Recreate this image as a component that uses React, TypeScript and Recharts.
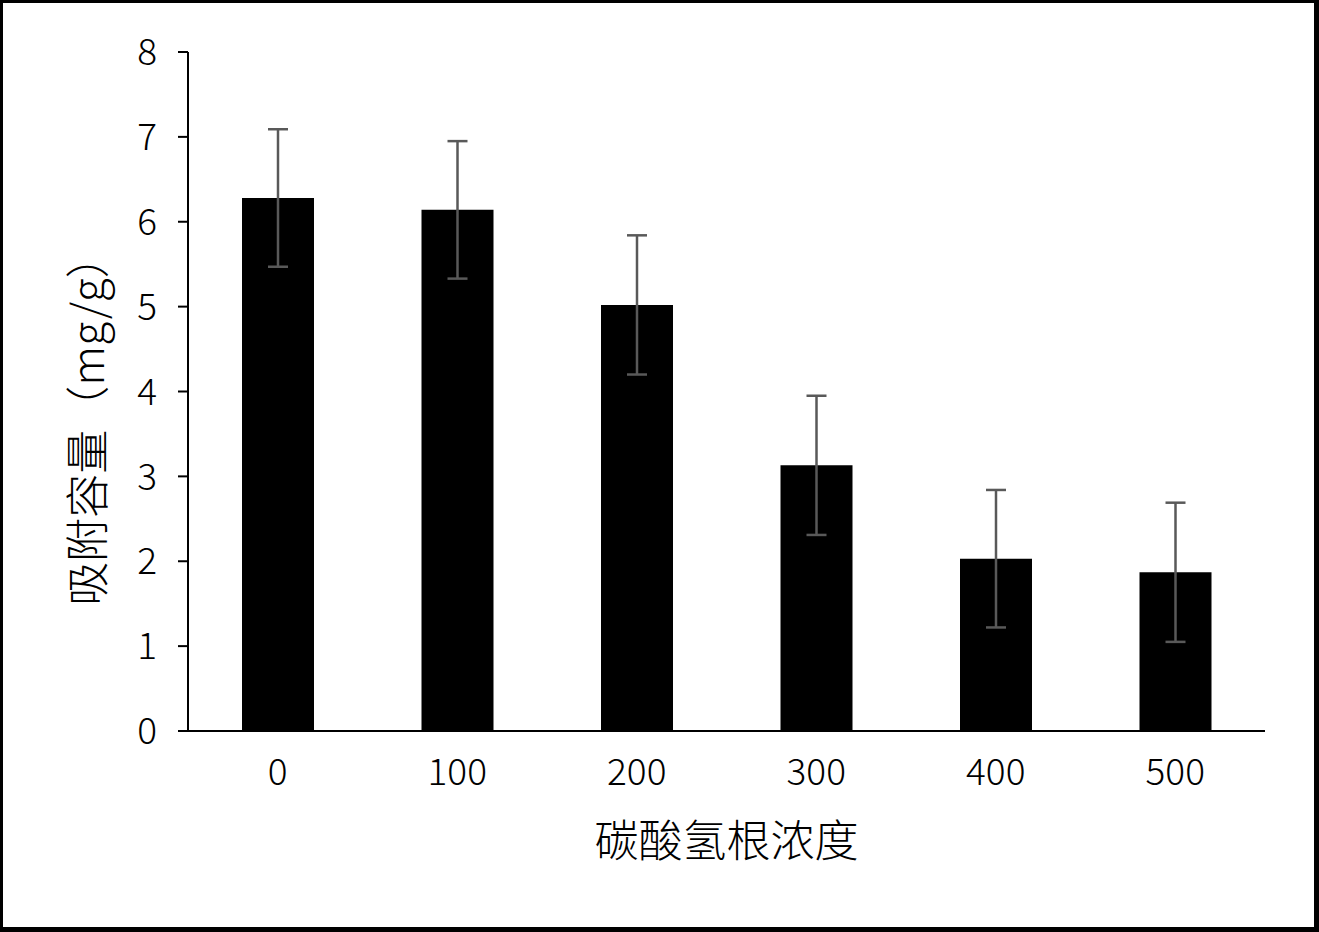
import { Bar, BarChart, ErrorBar, XAxis, YAxis } from 'recharts';

const categories = ['0', '100', '200', '300', '400', '500'];
const capacity = [6.28, 6.14, 5.02, 3.13, 2.03, 1.87];
const errors = [0.81, 0.81, 0.82, 0.82, 0.81, 0.82];
const yTicks = [0, 1, 2, 3, 4, 5, 6, 7, 8];

const data = categories.map((c, i) => ({ c, v: capacity[i], err: errors[i] }));

const font = '"Noto Sans CJK SC", "Noto Sans", sans-serif';
const tickStyle = { fontSize: 37, fill: '#000', fontFamily: font, fontWeight: 300 };

function YLabel() {
  return (
    <text
      x={85}
      y={420}
      transform="rotate(-90, 85, 420)"
      textAnchor="middle"
      dominantBaseline="central"
      fontSize={44}
      fontFamily={font}
      fontWeight={300}
      fill="#000"
    >
      吸附容量（mg/g）
    </text>
  );
}

export default function App() {
  return (
    <div style={{ position: 'absolute', left: 0, top: 0, width: 1319, height: 932, background: '#fff' }}>
      <BarChart
        width={1319}
        height={932}
        data={data}
        margin={{ top: 52, right: 54, bottom: 81, left: 60 }}
        barCategoryGap="30%"
      >
        <XAxis
          dataKey="c"
          height={120}
          tick={tickStyle}
          tickLine={false}
          tickSize={0}
          tickMargin={28}
          axisLine={{ stroke: '#000', strokeWidth: 2 }}
          label={{
            value: '碳酸氢根浓度',
            position: 'insideBottom',
            offset: -6,
            style: { fontSize: 44, fontFamily: font, fontWeight: 300, fill: '#000' },
          }}
        />
        <YAxis
          width={128}
          domain={[0, 8]}
          ticks={yTicks}
          interval={0}
          tick={tickStyle}
          tickSize={10}
          tickMargin={21}
          tickLine={{ stroke: '#000', strokeWidth: 2 }}
          axisLine={{ stroke: '#000', strokeWidth: 2 }}
          label={<YLabel />}
        />
        <Bar dataKey="v" fill="#000" barSize={72} isAnimationActive={false}>
          <ErrorBar dataKey="err" width={10} stroke="#595959" strokeWidth={2.5} isAnimationActive={false} />
        </Bar>
      </BarChart>
      <div
        style={{
          position: 'absolute',
          inset: 0,
          borderStyle: 'solid',
          borderColor: '#000',
          borderWidth: '3px 5px 5px 3px',
          pointerEvents: 'none',
        }}
      />
    </div>
  );
}
